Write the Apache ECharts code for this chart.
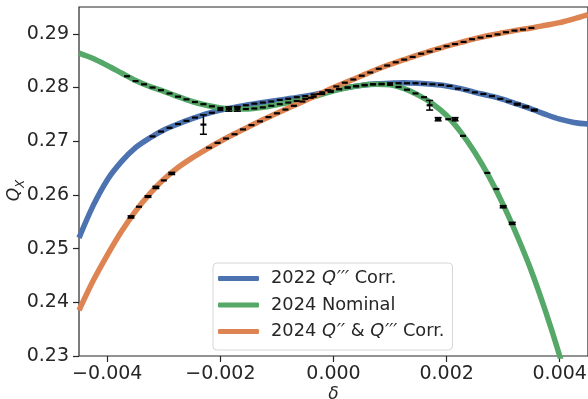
<!DOCTYPE html>
<html>
<head>
<meta charset="utf-8">
<script src="https://cdn.jsdelivr.net/npm/echarts@6/dist/echarts.min.js"></script>
<style>
  html, body { margin: 0; padding: 0; background: #ffffff; }
  #chart { width: 588px; height: 399px; }
</style>
</head>
<body>
<div id="chart"></div>
<script>
// Fitted tune curves Q_x(δ), sampled on a δ grid
const deltaGrid = [-0.0045, -0.00425, -0.004, -0.00375, -0.0035, -0.00325, -0.003, -0.00275, -0.0025, -0.00225,
                   -0.002, -0.00175, -0.0015, -0.00125, -0.001, -0.00075, -0.0005, -0.00025, 0, 0.00025,
                   0.0005, 0.00075, 0.001, 0.00125, 0.0015, 0.00175, 0.002, 0.00225, 0.0025, 0.00275,
                   0.003, 0.00325, 0.0035, 0.00375, 0.004, 0.00425, 0.0045];
const fit2022 = [0.2520, 0.2580, 0.2628, 0.2662, 0.2688, 0.2706, 0.2721, 0.2732, 0.2742, 0.2751,
                 0.2758, 0.2763, 0.2768, 0.2772, 0.2776, 0.2780, 0.2784, 0.2789, 0.2795, 0.2800,
                 0.2804, 0.2807, 0.2808, 0.2809, 0.2808, 0.2806, 0.2803, 0.2798, 0.2791, 0.2785,
                 0.2778, 0.2769, 0.2760, 0.2750, 0.2741, 0.2735, 0.2732];
const fitNominal = [0.2864, 0.2854, 0.2841, 0.2827, 0.2813, 0.2802, 0.2793, 0.2783, 0.2774, 0.2767,
                    0.2762, 0.2760, 0.2760, 0.2763, 0.2768, 0.2773, 0.2779, 0.2786, 0.2794, 0.2800,
                    0.2804, 0.2806, 0.2805, 0.2798, 0.2786, 0.2770, 0.2748, 0.2717, 0.2679, 0.2634,
                    0.2582, 0.2523, 0.2458, 0.2383, 0.2300, 0.2208, 0.2110];
const fitCorr2024 = [0.2385, 0.2440, 0.2488, 0.2532, 0.2570, 0.2602, 0.2629, 0.2651, 0.2669, 0.2685,
                     0.2700, 0.2714, 0.2727, 0.2740, 0.2752, 0.2764, 0.2776, 0.2788, 0.2800, 0.2811,
                     0.2822, 0.2833, 0.2843, 0.2852, 0.2861, 0.2869, 0.2877, 0.2884, 0.2891, 0.2897,
                     0.2902, 0.2907, 0.2911, 0.2916, 0.2921, 0.2928, 0.2936];

// Measured tunes with uncertainties
const meas2022X = [-0.0032, -0.00305, -0.0029, -0.00275, -0.0026, -0.00245, -0.0023, -0.00215, -0.002, -0.00185,
                   -0.0017, -0.00155, -0.0014, -0.00125, -0.0011, -0.00095, -0.0008, -0.00065, -0.0005, -0.00035,
                   -0.0002, -0.00005, 0.0001, 0.00025, 0.0004, 0.00055, 0.0007, 0.00085, 0.001, 0.00115,
                   0.0013, 0.00145, 0.0016, 0.00175, 0.0019, 0.00205, 0.0022, 0.00235, 0.0025, 0.00265,
                   0.0028, 0.00295, 0.0031, 0.00325, 0.0034, 0.00355];
const meas2022Y = [0.2709, 0.2718, 0.2725, 0.2732, 0.2738, 0.2744, 0.2731, 0.2753, 0.2758, 0.2761,
                   0.2764, 0.2767, 0.2770, 0.2772, 0.2774, 0.2777, 0.2779, 0.2782, 0.2784, 0.2787,
                   0.2791, 0.2794, 0.2797, 0.2800, 0.2802, 0.2804, 0.2806, 0.2807, 0.2808, 0.2808,
                   0.2808, 0.2808, 0.2807, 0.2806, 0.2805, 0.2803, 0.2798, 0.2795, 0.2791, 0.2788,
                   0.2784, 0.2779, 0.2774, 0.2769, 0.2764, 0.2758];
const meas2022Err = [0, 0, 0, 0, 0, 0, 0.0018, 0, 0, 0,
                     0, 0, 0, 0, 0, 0, 0, 0, 0, 0,
                     0, 0, 0, 0, 0, 0, 0, 0, 0, 0,
                     0, 0, 0, 0, 0, 0, 0, 0, 0, 0,
                     0, 0, 0, 0.00015, 0.00015, 0.00015];

const measNominalX = [-0.00365, -0.0035, -0.00335, -0.0032, -0.00305, -0.0029, -0.00275, -0.0026, -0.00245, -0.0023,
                      -0.00215, -0.002, -0.00185, -0.0017, -0.00155, -0.0014, -0.00125, -0.0011, -0.00095, -0.0008,
                      -0.00065, -0.0005, -0.00035, -0.0002, -0.00005, 0.0001, 0.00025, 0.0004, 0.00055, 0.0007,
                      0.00085, 0.001, 0.00115, 0.0013, 0.00145, 0.0016, 0.0017, 0.00185, 0.00203, 0.00215,
                      0.00229, 0.00272, 0.00288, 0.003, 0.00316];
const measNominalY = [0.2821, 0.2812, 0.2806, 0.2800, 0.2795, 0.2789, 0.2783, 0.2778, 0.2773, 0.2769,
                      0.2765, 0.2762, 0.2760, 0.2760, 0.2760, 0.2761, 0.2763, 0.2766, 0.2769, 0.2772,
                      0.2775, 0.2779, 0.2783, 0.2788, 0.2792, 0.2797, 0.2800, 0.2803, 0.2805, 0.2806,
                      0.2806, 0.2805, 0.2801, 0.2796, 0.2789, 0.2782, 0.2767, 0.2741, 0.2741, 0.2741,
                      0.2710, 0.2641, 0.2611, 0.2578, 0.2547];
const measNominalErr = [0, 0, 0, 0, 0, 0, 0, 0, 0, 0,
                        0, 0, 0.0004, 0.0004, 0, 0, 0, 0, 0, 0,
                        0, 0, 0, 0, 0, 0, 0, 0, 0, 0,
                        0, 0, 0, 0, 0, 0, 0.0009, 0.0003, 0, 0.0003,
                        0, 0, 0, 0.0002, 0.0002];

const measCorrX = [-0.00358, -0.00344, -0.00328, -0.00314, -0.003, -0.00286, -0.0022, -0.00205, -0.0019, -0.00175,
                   -0.0016, -0.00145, -0.0013, -0.00115, -0.001, -0.00085, -0.0007, -0.00055, -0.0004, -0.00025,
                   -0.0001, 0.00005, 0.0002, 0.00035, 0.0005, 0.00065, 0.0008, 0.00095, 0.0011, 0.00125,
                   0.0014, 0.00155, 0.0017, 0.00185, 0.002, 0.00215, 0.0023, 0.00245, 0.0026, 0.00275,
                   0.0029, 0.00305, 0.0032, 0.00335, 0.0035];
const measCorrY = [0.2559, 0.2578, 0.2597, 0.2614, 0.2627, 0.2640, 0.2688, 0.2697, 0.2705, 0.2713,
                   0.2722, 0.2730, 0.2737, 0.2745, 0.2752, 0.2759, 0.2766, 0.2774, 0.2781, 0.2788,
                   0.2795, 0.2802, 0.2809, 0.2815, 0.2822, 0.2828, 0.2835, 0.2841, 0.2847, 0.2852,
                   0.2857, 0.2863, 0.2867, 0.2872, 0.2877, 0.2881, 0.2885, 0.2890, 0.2893, 0.2896,
                   0.2899, 0.2903, 0.2906, 0.2908, 0.2911];
const measCorrErr = [0.0002, 0, 0.00015, 0.0002, 0, 0.0002, 0, 0, 0, 0,
                     0, 0, 0, 0, 0, 0, 0, 0, 0, 0,
                     0, 0, 0, 0, 0, 0, 0, 0, 0, 0,
                     0, 0, 0, 0, 0, 0, 0, 0, 0, 0,
                     0, 0, 0, 0, 0];

const xTicks = [-0.004, -0.002, 0, 0.002, 0.004];
const yTicks = [0.23, 0.24, 0.25, 0.26, 0.27, 0.28, 0.29];

const seriesNames = ['2022 Q′′′ Corr.', '2024 Nominal', '2024 Q′′ & Q′′′ Corr.'];
const seriesColors = ['#4C72B0', '#55A868', '#DD8452'];
const legendRich = {
  '2022 Q′′′ Corr.': '2022 {i|Q}{p|′′′} Corr.',
  '2024 Nominal': '2024 Nominal',
  '2024 Q′′ & Q′′′ Corr.': '2024 {i|Q}{p|′′} & {i|Q}{p|′′′} Corr.'
};

const FONT = 'DejaVu Sans';
const INK = '#262626';

function pairs(xs, ys) { return xs.map((x, i) => [x, ys[i]]); }
function triples(xs, ys, es) { return xs.map((x, i) => [x, ys[i], es[i]]); }

function fitSeries(name, ys, color) {
  return {
    name: name, type: 'line', data: pairs(deltaGrid, ys),
    smooth: 0.3, showSymbol: false, clip: true, color: color,
    lineStyle: { width: 5.5, color: color }, emphasis: { disabled: true }
  };
}

// Horizontal tick marker with optional capped error bar
function renderMeasurement(params, api) {
  const x = api.value(0), y = api.value(1), e = api.value(2);
  const c = api.coord([x, y]);
  const kids = [{
    type: 'line',
    shape: { x1: c[0] - 3, y1: c[1], x2: c[0] + 3, y2: c[1] },
    style: { stroke: '#000', lineWidth: 2.2 }
  }];
  if (e > 0) {
    const t = api.coord([x, y + e]), b = api.coord([x, y - e]);
    kids.push({ type: 'line', shape: { x1: c[0], y1: t[1], x2: c[0], y2: b[1] }, style: { stroke: '#000', lineWidth: 1.5 } });
    kids.push({ type: 'line', shape: { x1: c[0] - 3.5, y1: t[1], x2: c[0] + 3.5, y2: t[1] }, style: { stroke: '#000', lineWidth: 1.5 } });
    kids.push({ type: 'line', shape: { x1: c[0] - 3.5, y1: b[1], x2: c[0] + 3.5, y2: b[1] }, style: { stroke: '#000', lineWidth: 1.5 } });
  }
  return { type: 'group', children: kids };
}

function measSeries(name, data) {
  return {
    name: name, type: 'custom', data: data, renderItem: renderMeasurement,
    clip: true, z: 5, silent: true
  };
}

const chart = echarts.init(document.getElementById('chart'), null, { renderer: 'canvas' });
chart.setOption({
  animation: false,
  backgroundColor: '#ffffff',
  grid: {
    left: 79, right: 0, top: 7, bottom: 43,
    outerBoundsMode: 'none', containLabel: false,
    show: true, borderColor: INK, borderWidth: 1.2, backgroundColor: 'transparent'
  },
  xAxis: {
    type: 'value', min: -0.0045, max: 0.0045,
    name: 'δ', nameLocation: 'middle', nameGap: 30, nameMoveOverlap: false,
    nameTextStyle: { fontFamily: FONT, fontSize: 17, fontStyle: 'italic', color: INK },
    axisLine: { show: false, onZero: false },
    splitLine: { show: false },
    axisTick: { show: true, length: 6, customValues: xTicks, lineStyle: { color: INK, width: 1.2 } },
    axisLabel: {
      customValues: xTicks, margin: 9, fontFamily: FONT, fontSize: 19, color: INK,
      formatter: v => (v < 0 ? '\u2212' : '') + Math.abs(v).toFixed(3)
    }
  },
  yAxis: {
    type: 'value', min: 0.23, max: 0.295,
    name: '{q|Q}{s|X}', nameLocation: 'middle', nameGap: 52, nameRotate: 90, nameMoveOverlap: false,
    nameTextStyle: {
      fontFamily: FONT, color: INK, padding: [0, 18, 0, 0],
      rich: {
        q: { fontFamily: FONT, fontSize: 17, fontStyle: 'italic', color: INK, lineHeight: 24 },
        s: { fontFamily: FONT, fontSize: 12, fontStyle: 'italic', color: INK, lineHeight: 12, verticalAlign: 'bottom' }
      }
    },
    axisLine: { show: false, onZero: false },
    splitLine: { show: false },
    axisTick: { show: true, length: 6, customValues: yTicks, lineStyle: { color: INK, width: 1.2 } },
    axisLabel: {
      customValues: yTicks, margin: 10, fontFamily: FONT, fontSize: 19, color: INK,
      formatter: v => v.toFixed(2)
    }
  },
  legend: {
    data: seriesNames, orient: 'vertical', left: 213, top: 263,
    padding: [6, 8, 9, 5], itemWidth: 41, itemHeight: 5, itemGap: 7.5,
    icon: 'roundRect', selectedMode: false,
    backgroundColor: 'rgba(255,255,255,0.85)', borderColor: '#d6d6d6', borderWidth: 1, borderRadius: 4,
    formatter: name => legendRich[name],
    textStyle: {
      fontFamily: FONT, fontSize: 17.8, color: INK, lineHeight: 19, padding: [0, 0, 0, 7],
      rich: {
        i: { fontFamily: FONT, fontSize: 17.8, fontStyle: 'italic', color: INK, lineHeight: 19 },
        p: { fontFamily: FONT, fontSize: 17.8, fontStyle: 'italic', color: INK, lineHeight: 19, padding: [0, 0, 0, 1] }
      }
    }
  },
  series: [
    fitSeries(seriesNames[0], fit2022, seriesColors[0]),
    fitSeries(seriesNames[1], fitNominal, seriesColors[1]),
    fitSeries(seriesNames[2], fitCorr2024, seriesColors[2]),
    measSeries('meas2022', triples(meas2022X, meas2022Y, meas2022Err)),
    measSeries('measNominal', triples(measNominalX, measNominalY, measNominalErr)),
    measSeries('measCorr', triples(measCorrX, measCorrY, measCorrErr))
  ]
});
</script>
</body>
</html>
